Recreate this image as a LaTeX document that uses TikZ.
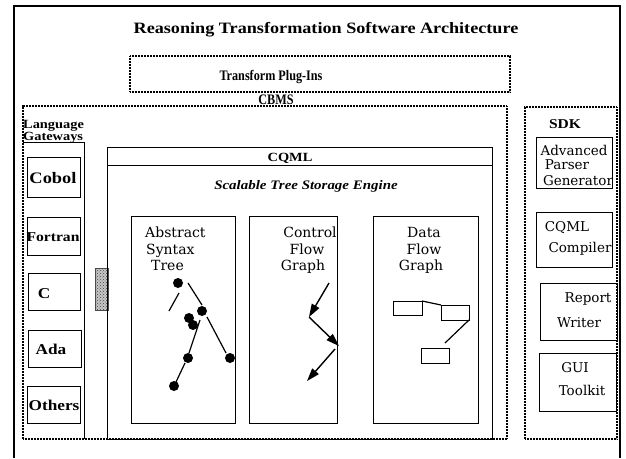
\documentclass[tikz,border=0pt]{standalone}
\usepackage{fontspec}
\setmainfont{Liberation Serif}
\newfontfamily\headfont[FakeStretch=1.15]{Liberation Serif}
\newfontfamily\narrowfont[FakeStretch=0.84]{Liberation Serif}
\newfontfamily\bookfont{DejaVu Serif}
\usetikzlibrary{arrows.meta,patterns}

% rectangle node given by its two corners: [options]{name}{x1}{y1}{x2}{y2}
\newcommand\boxat[6][]{%
  \node[inner sep=0pt, outer sep=0pt,
        minimum width={(#5-#3)*1pt}, minimum height={(#6-#4)*1pt}, #1]
        (#2) at ({(#3+#5)/2},{(#4+#6)/2}) {};}

\tikzset{
  frame/.style={draw, line width=1.1pt},
  dotframe/.style={draw, line width=1.4pt, dash pattern=on 0.8pt off 0.7pt},
  thinbox/.style={draw, line width=0.9pt},
  hd/.style={font=\headfont\bfseries\fontsize{#1}{#1}\selectfont, inner sep=0pt, anchor=base},
  hd/.default=14,
  nb/.style={font=\narrowfont\bfseries\fontsize{#1}{#1}\selectfont, inner sep=0pt, anchor=base},
  nb/.default=14,
  bk/.style={font=\bookfont\fontsize{14}{14}\selectfont, inner sep=0pt, anchor=base},
  sdkitem/.style={font=\bookfont\fontsize{13.5}{13.5}\selectfont, inner sep=0pt, anchor=base},
  dot/.style={circle, fill, inner sep=0pt, minimum size=10pt},
  edge/.style={line width=1.2pt},
  flow/.style={line width=1.4pt, -{Triangle[length=13pt,width=8.5pt]}},
}

\begin{document}
\begin{tikzpicture}[x=1pt,y=-1pt]
\useasboundingbox (0,0) rectangle (626,458);

% outer frame, open at the bottom
\coordinate (fbl) at (14,458);
\coordinate (ftl) at (14,6);
\coordinate (ftr) at (620,6);
\coordinate (fbr) at (620,458);
\draw[frame] (fbl) -- (ftl) -- (ftr) -- (fbr);

\node[hd=15.8] (title) at (326,33) {Reasoning Transformation Software Architecture};

% plug-in layer
\boxat[dotframe]{plugins}{130}{56}{510}{92}
\node[nb=14.5] (pluginstext) at (271,80) {Transform Plug-Ins};

% CBMS
\boxat[dotframe]{cbms}{23}{106}{507}{439}
\node[nb=14.5] (cbmstext) at (276,104) {CBMS};

% language gateways
\node[hd=12.5, anchor=base west] (lang1) at (23,128) {Language};
\node[hd=12.5, anchor=base west] (lang2) at (23,140) {Gateways};
\coordinate (lgtl) at (23,142);
\coordinate (lgtr) at (84,142);
\coordinate (lgbr) at (84,439);
\draw[thinbox] (lgtl) -- (lgtr) -- (lgbr);

\boxat[thinbox]{cobol}{27}{157}{80}{197}
\boxat[thinbox]{fortran}{27}{217}{80}{255}
\boxat[thinbox]{clang}{28}{273}{80}{310}
\boxat[thinbox]{ada}{28}{330}{81}{367}
\boxat[thinbox]{others}{27}{386}{80}{423}
\node[hd=16] (coboltext) at (53,183) {Cobol};
\node[hd=13.6] (fortrantext) at (53,241) {Fortran};
\node[hd=15] (ctext) at (44,298) {C};
\node[hd=15] (adatext) at (51,354) {Ada};
\node[hd=15] (otherstext) at (54,410) {Others};

% port between gateways and storage engine
\boxat[draw=black!70, line width=0.6pt, fill=black!22,
       postaction={pattern=crosshatch dots, pattern color=black!75}]{port}{95}{268}{108}{310}

% CQML storage engine
\boxat[thinbox]{cqml}{107}{147}{492}{439}
\coordinate (hdl) at (107,165);
\coordinate (hdr) at (492,165);
\draw[thinbox] (hdl) -- (hdr);
\node[hd=12.5] (cqmltext) at (290,161) {CQML};
\node[font=\headfont\bfseries\itshape\fontsize{13}{13}\selectfont, inner sep=0pt, anchor=base]
  (engine) at (306,189.5) {Scalable Tree Storage Engine};

\boxat[thinbox]{ast}{131}{216}{235}{423}
\boxat[thinbox]{cfg}{249}{216}{337}{423}
\boxat[thinbox]{dfg}{373}{216}{478}{423}

\node[bk, anchor=base west] (ast1) at (145,237) {Abstract};
\node[bk, anchor=base west] (ast2) at (146,254) {Syntax};
\node[bk, anchor=base west] (ast3) at (151,270) {Tree};
\node[bk] (cfg1) at (310,237) {Control};
\node[bk] (cfg2) at (307,254) {Flow};
\node[bk] (cfg3) at (303,270) {Graph};
\node[bk] (dfg1) at (424,237) {Data};
\node[bk] (dfg2) at (424,254) {Flow};
\node[bk] (dfg3) at (421,270) {Graph};

% syntax tree sketch
\node[dot] (d1) at (178,283) {};
\node[dot] (d2) at (202,311) {};
\node[dot] (dd1) at (189,318) {};
\node[dot] (dd2) at (193,325) {};
\node[dot] (d4) at (188,358) {};
\node[dot] (d5) at (230,358) {};
\node[dot] (d6) at (174,386) {};
\coordinate (tl) at (169,311);
\draw[edge] ([shift={(10,0)}]d1.center) -- ([shift={(0,-6)}]d2.center);
\draw[edge] ([shift={(1,10)}]d1.center) -- (tl);
\draw[edge] ([shift={(5,6)}]d2.center) -- ([shift={(-4,-5)}]d5.center);
\draw[edge] ([shift={(-2,9)}]d2.center) -- ([shift={(1,-5)}]d4.center);
\draw[edge] ([shift={(-3,5)}]d4.center) -- ([shift={(2,-4)}]d6.center);

% control flow sketch
\coordinate (k1) at (329,283);
\coordinate (k2) at (309,317);
\coordinate (k3) at (339,346);
\coordinate (k4) at (335,349);
\coordinate (k5) at (307,381);
\draw[flow] (k1) -- (k2);
\draw[flow] (k2) -- (k3);
\draw[flow] (k4) -- (k5);

% data flow sketch
\boxat[thinbox]{r1}{393}{301}{422}{315}
\boxat[thinbox]{r2}{441}{305}{469}{320}
\boxat[thinbox]{r3}{421}{348}{449}{363}
\draw[edge] (r1.north east) -- (r2.north west);
\draw[edge] (r2.south east) -- ([shift={(-4,-5)}]r3.north east);

% SDK
\boxat[dotframe]{sdk}{525}{107}{617}{439}
\node[hd=13.5] (sdktext) at (565,128) {SDK};
\boxat[thinbox]{apg}{536}{137}{612}{188}
\boxat[thinbox]{compiler}{536}{212}{612}{267}
\boxat[thinbox]{report}{540}{283}{617}{340}
\boxat[thinbox]{gui}{539}{353}{616}{411}
\node[sdkitem] (apg1) at (574,155) {Advanced};
\node[sdkitem] (apg2) at (567,169) {Parser};
\node[sdkitem] (apg3) at (578,185) {Generator};
\node[sdkitem] (comp1) at (567,231) {CQML};
\node[sdkitem] (comp2) at (580,252) {Compiler};
\node[sdkitem] (rep1) at (588,302) {Report};
\node[sdkitem] (rep2) at (579,327) {Writer};
\node[sdkitem] (gui1) at (575,372) {GUI};
\node[sdkitem] (gui2) at (582,395) {Toolkit};
\end{tikzpicture}
\end{document}
